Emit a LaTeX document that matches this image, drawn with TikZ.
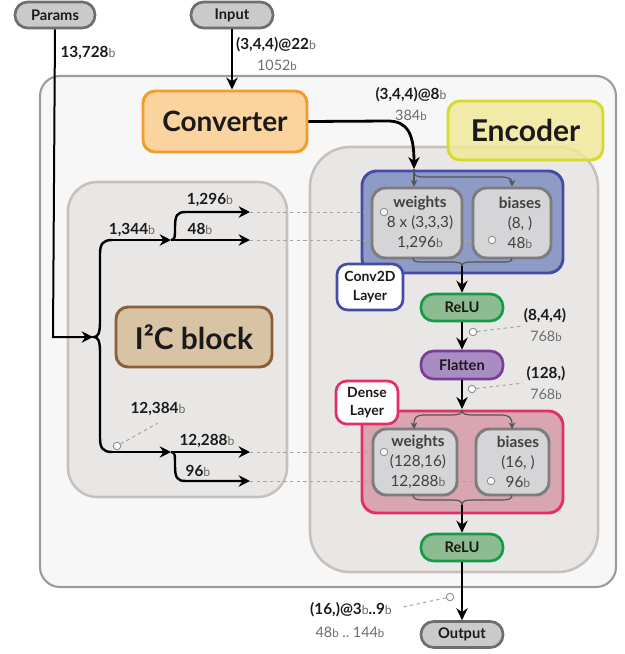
\documentclass[tikz,border=0pt]{standalone}
\usepackage{fontspec}
\setmainfont{Lato}
\usetikzlibrary{arrows.meta,shadows}
\definecolor{txt}{HTML}{1A1A1A}
\definecolor{ugray}{HTML}{6A6A6A}
\definecolor{glbl}{HTML}{6E6E6E}
\definecolor{pillfill}{HTML}{C9CACC}
\definecolor{pillline}{HTML}{6E6E6E}
\definecolor{outerfill}{HTML}{F7F7F7}
\definecolor{outerline}{HTML}{9C9C9C}
\definecolor{grpfill}{HTML}{E9E7E5}
\definecolor{grpline}{HTML}{C7C0BB}
\definecolor{convfill}{HTML}{FAD39E}
\definecolor{convline}{HTML}{F39C2A}
\definecolor{encfill}{HTML}{F9EF96}
\definecolor{encline}{HTML}{D3DC2C}
\definecolor{cnvfill}{HTML}{8E9BC6}
\definecolor{cnvline}{HTML}{454BA6}
\definecolor{prmfill}{HTML}{D5D5D7}
\definecolor{prmline}{HTML}{7D7D7D}
\definecolor{relufill}{HTML}{8CBC8F}
\definecolor{reluline}{HTML}{179A48}
\definecolor{flatfill}{HTML}{A98CC4}
\definecolor{flatline}{HTML}{7B3D96}
\definecolor{dnsfill}{HTML}{D9A5B1}
\definecolor{dnsline}{HTML}{E0306A}
\definecolor{i2cfill}{HTML}{D8C3A5}
\definecolor{i2cline}{HTML}{8A6039}
\definecolor{thin}{HTML}{555555}
\definecolor{dash}{HTML}{A5A5A5}
\newcommand\bu{{\mdseries\color{ugray}\scalebox{0.8}{b}}}
\tikzset{
  wh/.style 2 args={minimum width=#1*0.75pt, minimum height=#2*0.75pt},
  shad/.style={drop shadow={opacity=0.2,shadow xshift=0.7pt,shadow yshift=-0.9pt}},
  pill/.style={draw=pillline, fill=pillfill, line width=2pt, rounded corners=9.5pt,
    inner sep=0pt, font=\fontsize{11}{13}\selectfont\bfseries, text=txt, shad},
  bigbox/.style={line width=2.2pt, rounded corners=9pt, inner sep=0pt,
    font=\fontsize{21}{25}\selectfont\bfseries, text=txt, shad},
  layerbox/.style={line width=2.2pt, rounded corners=11pt, inner sep=0pt},
  prmbox/.style={draw=prmline, fill=prmfill, line width=2.2pt, rounded corners=10pt, inner sep=0pt, shad},
  ptext/.style={align=center, inner sep=0pt, font=\fontsize{11.5}{15}\selectfont, text=black!75},
  tagbox/.style={fill=white, line width=2pt, rounded corners=8pt, inner sep=0pt,
    align=center, font=\fontsize{10.5}{14}\selectfont\bfseries, text=txt, shad},
  lbl/.style={inner sep=0pt, font=\fontsize{11.5}{13}\selectfont\bfseries, text=txt},
  glbl/.style={inner sep=0pt, font=\fontsize{10.8}{13}\selectfont, text=glbl},
  dot/.style={circle, draw=black!45, fill=white, line width=0.7pt, minimum size=7.5*0.75pt, inner sep=0pt},
  dashl/.style={draw=dash, line width=0.75pt, dash pattern=on 2.5pt off 2.5pt},
  mainarr/.style={draw=black, line width=2.1pt, -{Stealth[length=9pt,width=8.5pt]}},
  iarr/.style={draw=black, line width=1.8pt, -{Stealth[length=8.5pt,width=8.5pt]}},
  iline/.style={draw=black, line width=1.8pt},
  tarr/.style={draw=thin, line width=0.9pt, -{Stealth[length=5pt,width=5pt]}},
  tline/.style={draw=thin, line width=0.9pt},
}
\begin{document}
\begin{tikzpicture}[x=0.75pt,y=-0.75pt]
\useasboundingbox (0,0) rectangle (625,654);

% containers
\draw[draw=outerline, fill=outerfill, line width=1.6pt, rounded corners=15pt] (40,76) rectangle (616,587);
\draw[draw=grpline, fill=grpfill, line width=1.9pt, rounded corners=30pt] (310,147) rectangle (598,572);
\draw[draw=grpline, fill=grpfill, line width=1.9pt, rounded corners=22pt] (68,182) rectangle (287,497);

% layers
\node[layerbox, draw=cnvline, fill=cnvfill, wh={201}{102}] (conv) at (462.5,222) {};
\node[layerbox, draw=dnsline, fill=dnsfill, wh={201}{102}] (dense) at (462.5,462) {};

% dashed links (behind parameter boxes)
\coordinate (t1) at (250,212);
\coordinate (t2) at (250,240);
\coordinate (t3) at (250,452);
\coordinate (t4) at (250,481);
\draw[dashl] (t1) -- (384,212);
\draw[dashl] (t2) -- (492,240);
\draw[dashl] (t3) -- (384,452);
\draw[dashl] (t4) -- (491,481);

% parameter boxes
\node[prmbox, wh={90}{70}] (cw) at (417,223) {};
\node[prmbox, wh={78}{70}] (cb) at (512,223) {};
\node[prmbox, wh={84}{66}] (dw) at (415,462) {};
\node[prmbox, wh={73}{66}] (db) at (512.5,462) {};
\node[ptext] (cwt) at (420,223) {{\bfseries weights}\\8 x (3,3,3)\\1,296\bu};
\node[ptext] (cbt) at (520,223) {{\bfseries biases}\\(8,\ )\\48\bu};
\node[ptext] (dwt) at (418,462) {{\bfseries weights}\\(128,16)\\12,288\bu};
\node[ptext] (dbt) at (518,462) {{\bfseries biases}\\(16,\ )\\96\bu};

% dots
\node[dot] (cwd) at (384,212) {};
\node[dot] (cbd) at (492,240) {};
\node[dot] (dwd) at (384,452) {};
\node[dot] (dbd) at (491,481) {};

% main nodes
\node[pill, wh={80}{26}] (params) at (55,15) {Params};
\node[pill, wh={82}{26}] (input) at (232,15) {Input};
\node[bigbox, draw=convline, fill=convfill, wh={164}{61}] (converter) at (225,121.5) {Converter};
\node[bigbox, draw=i2cline, fill=i2cfill, wh={156}{60}, font=\fontsize{22.5}{26}\selectfont\bfseries] (i2c) at (194,337) {I²C block};
\node[bigbox, draw=encline, fill=encfill, fill opacity=0.75, text opacity=1, wh={155}{59}, font=\fontsize{22.5}{26}\selectfont\bfseries] (enc) at (525.5,130.5) {Encoder};
\node[tagbox, draw=cnvline, wh={66}{46}] (convtag) at (370,287) {Conv2D\\Layer};
\node[tagbox, draw=dnsline, wh={62}{43}] (densetag) at (367,402.5) {Dense\\Layer};
\node[pill, draw=reluline, fill=relufill, wh={82}{27}] (relu1) at (462,307.5) {ReLU};
\node[pill, draw=flatline, fill=flatfill, wh={82}{28}] (flat) at (462,365) {Flatten};
\node[pill, draw=reluline, fill=relufill, wh={82}{27}] (relu2) at (462,547.5) {ReLU};
\node[pill, wh={82}{26}] (output) at (462,634.5) {Output};

% input / converter arrows
\draw[mainarr] (input.south) -- (input.south |- converter.north);
\coordinate (cvin) at (414,169);
\draw[mainarr] (converter.east) -- (388,121) .. controls (408,121) and (414,135) .. (cvin);

% conv brace
\draw[tarr] (cvin) -- (cw.north -| cvin);
\draw[tarr] (414,171) .. controls (414,176) and (417,177) .. (425,177) -- (500,177) .. controls (509,177) and (512,179) .. (cb.north);
\coordinate (cvj) at (462,266);
\draw[tline] (413,258) .. controls (413,262) and (416,262) .. (425,262) -- (452,262) .. controls (459,262) and (462,263) .. (cvj);
\draw[tline] (512,258) .. controls (512,262) and (509,262) .. (500,262) -- (472,262) .. controls (465,262) and (462,263) .. (cvj);
\draw[mainarr] (cvj) -- (relu1.north);
\draw[mainarr] (relu1.south) -- (flat.north);

% dense brace
\coordinate (dnin) at (462,409);
\draw[mainarr] (flat.south) -- (dnin);
\draw[tarr] (462,410) .. controls (462,414) and (459,415) .. (450,415) -- (425,415) .. controls (416,415) and (414,417) .. (414,429);
\draw[tarr] (462,410) .. controls (462,414) and (465,415) .. (474,415) -- (500,415) .. controls (509,415) and (512,417) .. (512,429);
\coordinate (dnj) at (462,505);
\draw[tline] (413,495) .. controls (413,499) and (416,500) .. (425,500) -- (452,500) .. controls (459,500) and (462,501) .. (dnj);
\draw[tline] (512,495) .. controls (512,499) and (509,500) .. (500,500) -- (472,500) .. controls (465,500) and (462,501) .. (dnj);
\draw[mainarr] (dnj) -- (relu2.north);
\draw[mainarr] (relu2.south) -- (output.north);

% params into I2C brace
\coordinate (bp) at (93,337);
\draw[iarr, line width=1.5pt] (params.south) -- (53,337) -- (bp);
\coordinate (bt) at (112,240);
\coordinate (bb) at (112,452);
\draw[iline] (bt) .. controls (103,240) and (100,244) .. (100,254) -- (100,322) .. controls (100,333) and (98,337) .. (94,337)
  .. controls (98,337) and (100,341) .. (100,352) -- (100,438) .. controls (100,448) and (103,452) .. (bb);
\coordinate (st) at (171,240);
\coordinate (sb) at (171,452);
\draw[iarr] (bt) -- (st);
\draw[iarr] (bb) -- (sb);
\draw[iarr] (st) -- (t2);
\draw[iarr] (st) .. controls (175,240) and (175,237) .. (175,228) .. controls (175,215) and (177,212) .. (186,212) -- (t1);
\draw[iarr] (sb) -- (t3);
\draw[iarr] (sb) .. controls (175,452) and (175,455) .. (175,465) .. controls (175,478) and (177,481) .. (186,481) -- (t4);

% label dots and leaders
\node[dot] (d1) at (473,332) {};
\node[dot] (d2) at (472,389) {};
\node[dot] (d3) at (450,597) {};
\node[dot] (d4) at (117,446) {};
\draw[dashl] (d1) -- (523,326);
\draw[dashl] (d2) -- (523,383);
\draw[dashl] (d3) -- (403,607);
\draw[dashl] (d4) -- (158,423);

% labels
\node[lbl] (l13728) at (88,53) {13,728\bu};
\node[lbl] (l22) at (276,45) {(3,4,4)@22\bu};
\node[glbl] (l1052) at (277,65) {1052\bu};
\node[lbl] (l8b) at (411,95) {(3,4,4)@8\bu};
\node[glbl] (l384) at (411,115) {384\bu};
\node[lbl] (l844) at (545,316) {(8,4,4)};
\node[glbl] (l768a) at (546,336) {768\bu};
\node[lbl] (l128) at (546,374) {(128,)};
\node[glbl] (l768b) at (546,394) {768\bu};
\node[lbl] (l16) at (351,610) {(16,)@3\bu..9\bu};
\node[glbl] (l48) at (350,632) {48\bu\ ..\ 144\bu};
\node[lbl] (l1296) at (210,200) {1,296\bu};
\node[lbl] (l48b) at (200,229) {48\bu};
\node[lbl] (l1344) at (132,230) {1,344\bu};
\node[lbl] (l12384) at (158,409) {12,384\bu};
\node[lbl] (l12288) at (207,441) {12,288\bu};
\node[lbl] (l96) at (198,471) {96\bu};
\end{tikzpicture}
\end{document}
